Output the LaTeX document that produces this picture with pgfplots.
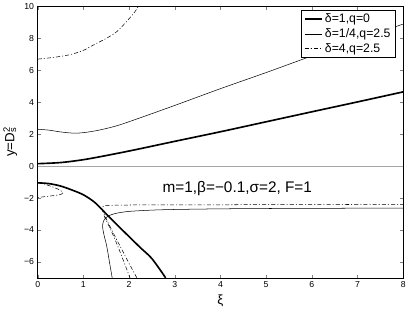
\documentclass[border=0pt]{standalone}
\usepackage{fontspec}
\setmainfont{Liberation Sans}
\usepackage{pgfplots}
\pgfplotsset{compat=1.18}
\begin{document}
\begin{tikzpicture}
\begin{axis}[
  scale only axis, width=357pt, height=265pt,
  xmin=0, xmax=8, ymin=-7, ymax=10,
  xtick={0,1,...,8}, ytick={-6,-4,...,10},
  yticklabels={−6,−4,−2,0,2,4,6,8,10},
  tick align=inside, tick pos=both,
  major tick length=3pt,
  /pgf/number format/assume math mode=true,
  tick label style={font=\fontsize{8.5}{10}\selectfont},
  xlabel={ξ}, ylabel={y=D\rlap{\textsuperscript{2}}\textsubscript{s}},
  label style={font=\fontsize{13}{15}\selectfont},
  legend cell align=left,
  legend style={at={(rel axis cs:0.98,0.988)}, anchor=north east,
    font=\fontsize{12}{15}\selectfont, draw=black, fill=white},
]
\addplot[gray!70, line width=1pt, forget plot] coordinates {(0,0) (8,0)};

% delta=1, q=0
\addplot[black, line width=1.6pt, smooth] coordinates {
  (0,0.15) (0.5,0.22) (1,0.4) (1.5,0.66) (2.13,1.02) (3,1.55) (4,2.15)
  (5.04,2.8) (6,3.4) (7,4.02) (8,4.65)};
\addlegendentry{δ=1,q=0}
% delta=1/4, q=2.5
\addplot[black, line width=0.5pt, smooth] coordinates {
  (0,2.31) (0.25,2.25) (0.5,2.14) (0.85,2.06) (1.25,2.2) (1.7,2.5)
  (2.13,2.91) (3,3.8) (4,4.85) (5.04,5.9) (6,6.9) (7,7.9) (8,8.9)};
\addlegendentry{δ=1/4,q=2.5}
% delta=4, q=2.5
\addplot[black, line width=0.5pt, dash pattern=on 4pt off 2pt on 1pt off 2pt, smooth] coordinates {
  (0,6.7) (0.4,6.83) (0.72,6.99) (1.0,7.25) (1.24,7.62) (1.5,8.0)
  (1.75,8.47) (2.09,9.53) (2.2,10.0)};
\addlegendentry{δ=4,q=2.5}

% lower branches
\addplot[black, line width=1.6pt, smooth, forget plot] coordinates {
  (0,-1.05) (0.25,-1.1) (0.5,-1.25) (0.75,-1.5) (1.0,-1.8) (1.25,-2.28)
  (1.5,-3.0) (1.75,-3.72) (2.0,-4.42) (2.25,-5.12) (2.5,-5.8) (2.8,-7.0)};
\addplot[black, line width=0.5pt, smooth, forget plot] coordinates {
  (1.63,-7) (1.57,-6) (1.51,-5) (1.45,-4.3) (1.42,-3.8) (1.44,-3.45)
  (1.5,-3.22) (1.6,-3.06) (1.75,-2.94) (2.0,-2.84) (2.5,-2.76) (3,-2.72)
  (4,-2.68) (5,-2.66) (6,-2.65) (7,-2.64) (8,-2.63)};
\addplot[black, line width=0.5pt, dash pattern=on 4pt off 2pt on 1pt off 2pt, smooth, forget plot] coordinates {
  (2.17,-7) (2.0,-6.1) (1.8,-5.0) (1.62,-4.0) (1.5,-3.3) (1.42,-2.8)
  (1.4,-2.6) (1.45,-2.5) (1.6,-2.46) (2,-2.44) (3,-2.43) (5,-2.42) (8,-2.4)};
\addplot[black, line width=0.5pt, dash pattern=on 4pt off 2pt on 1pt off 2pt, smooth, forget plot] coordinates {
  (1.45,-3.1) (1.6,-4.0) (1.75,-5.0) (1.9,-6.1) (2.02,-7)};
\addplot[black, line width=0.5pt, dash pattern=on 4pt off 2pt on 1pt off 2pt, smooth, forget plot] coordinates {
  (0,-1.05) (0.15,-1.13) (0.3,-1.28) (0.45,-1.45) (0.55,-1.65) (0.5,-1.78)
  (0.35,-1.85) (0.2,-1.9) (0,-1.97)};

\node[font=\fontsize{15}{18}\selectfont] at (axis cs:4.37,-1.4) {m=1,β=−0.1,σ=2, F=1};
\end{axis}
\end{tikzpicture}
\end{document}
